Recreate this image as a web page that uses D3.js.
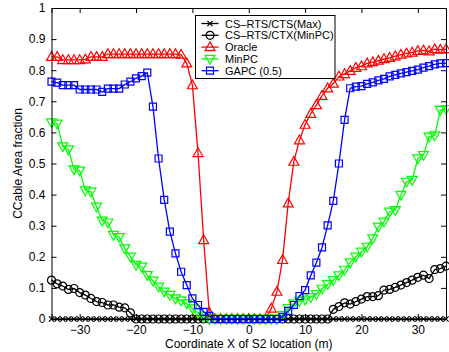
<!DOCTYPE html>
<html>
<head>
<meta charset="utf-8">
<script src="https://cdn.jsdelivr.net/npm/d3@7"></script>
<style>
  body { margin: 0; background: #fff; }
  text { font-family: "Liberation Sans", Arial, sans-serif; }
</style>
</head>
<body>
<svg width="449" height="352"></svg>
<script>
// sample locations (m)
var xs = d3.range(-35, 36);

var xTicks = [-30, -20, -10, 0, 10, 20, 30];
var yTicks = [0, 0.1, 0.2, 0.3, 0.4, 0.5, 0.6, 0.7, 0.8, 0.9, 1];

var seriesNames = ["CS–RTS/CTS(Max)", "CS–RTS/CTX(MinPC)", "Oracle", "MinPC", "GAPC (0.5)"];

var maxVals = [0,0,0,0,0,0,0,0,0,0,0,0,0,0,0,0,0,0,0,0,0,0,0,0,0,0,0,0,0,0,0,0,0,0,0,0,
  0,0,0,0,0,0,0,0,0,0,0,0,0,0,0,0,0,0,0,0,0,0,0,0,0,0,0,0,0,0,0,0,0,0,0];

var ctxVals = [0.125,0.113,0.106,0.095,0.098,0.085,0.077,0.066,0.056,0.053,0.045,0.045,0.038,0.036,0.02,
  0,0,0,0,0,0,0,0,0,0,0,0,0,0,0,0,0,0,0,0,0,0,0,0,0,0,0,0,0,0,0,0,0,0,0,
  0.031,0.04,0.052,0.048,0.056,0.064,0.072,0.072,0.075,0.093,0.095,0.102,0.109,0.117,0.125,0.134,0.141,0.13,0.159,0.162,0.17];

var oracleVals = [0.843,0.843,0.833,0.833,0.833,0.833,0.835,0.843,0.843,0.843,
  0.852,0.852,0.852,0.852,0.852,0.852,0.852,0.852,0.852,0.852,0.852,0.852,0.852,
  0.85,0.822,0.752,0.534,0.254,0.02,
  0,0,0,0,0,0,0,0,0,0,
  0.034,0.088,0.19,0.372,0.506,0.575,0.625,0.66,0.688,0.718,0.742,0.757,0.78,0.788,0.798,0.808,
  0.813,0.822,0.826,0.831,0.836,0.84,0.845,0.85,0.854,0.857,0.862,0.864,0.861,0.868,0.866,0.868];

var minpcVals = [0.632,0.628,0.555,0.545,0.481,0.477,0.413,0.409,0.361,0.316,0.31,0.27,0.263,0.227,0.2,
  0.174,0.168,0.141,0.123,0.104,0.088,0.077,0.066,0.059,0.05,0.034,0.02,0.008,0,
  0,0,0,0,0,0,0,0,0,0,0,
  0,0.012,0.035,0.05,0.058,0.062,0.07,0.08,0.097,0.112,0.125,0.14,0.158,0.182,0.2,0.216,
  0.232,0.259,0.297,0.313,0.345,0.35,0.399,0.441,0.447,0.516,0.527,0.586,0.59,0.672,0.675];

var gapcVals = [0.763,0.76,0.752,0.752,0.752,0.738,0.738,0.738,0.738,0.73,0.741,0.741,0.741,0.754,0.763,0.774,0.781,0.792,
  0.683,0.516,0.383,0.281,0.211,0.152,0.109,0.066,0.045,0.023,0.01,
  0,0,0,0,0,0,0,0,0,0,0,0,
  0.007,0.026,0.045,0.074,0.093,0.14,0.181,0.23,0.301,0.38,0.5,0.64,
  0.742,0.747,0.749,0.756,0.761,0.767,0.772,0.78,0.785,0.79,0.794,0.798,0.802,0.808,0.813,0.819,0.822,0.823];

var svg = d3.select("svg");
var margin = {left: 51.5, right: 3, top: 8, bottom: 33};
var width = 449 - margin.left - margin.right,
    height = 352 - margin.top - margin.bottom;

var x = d3.scaleLinear().domain([-35, 35]).range([margin.left, margin.left + width]);
var y = d3.scaleLinear().domain([0, 1]).range([margin.top + height, margin.top]);

// marker shapes, centred on the point
function markerPath(kind) {
  if (kind == "x") return "M-2.6,-2.6L2.6,2.6M-2.6,2.6L2.6,-2.6";
  if (kind == "o") return "M4,0A4,4 0 1,1 -4,0A4,4 0 1,1 4,0Z";
  if (kind == "up") return "M0,-5.2L5,3.6L-5,3.6Z";
  if (kind == "down") return "M0,5.2L5,-3.6L-5,-3.6Z";
  if (kind == "sq") return "M-3.5,-3.5H3.5V3.5H-3.5Z";
}

var series = [
  {name: seriesNames[0], vals: maxVals, color: "#000", marker: "x"},
  {name: seriesNames[1], vals: ctxVals, color: "#000", marker: "o"},
  {name: seriesNames[2], vals: oracleVals, color: "#ff0000", marker: "up"},
  {name: seriesNames[3], vals: minpcVals, color: "#00ff00", marker: "down"},
  {name: seriesNames[4], vals: gapcVals, color: "#0000ff", marker: "sq"}
];

var line = d3.line()
  .x(function(d) { return x(d[0]); })
  .y(function(d) { return y(d[1]); });

var plot = svg.append("g");
series.forEach(function(s) {
  var pts = xs.map(function(v, i) { return [v, s.vals[i]]; });
  var g = plot.append("g");
  g.append("path")
    .attr("d", line(pts))
    .attr("fill", "none")
    .attr("stroke", s.color)
    .attr("stroke-width", 1.3);
  g.selectAll("path.m")
    .data(pts)
    .enter()
    .append("path")
      .attr("class", "m")
      .attr("d", markerPath(s.marker))
      .attr("transform", function(d) { return "translate(" + x(d[0]) + "," + y(d[1]) + ")"; })
      .attr("fill", "none")
      .attr("stroke", s.color)
      .attr("stroke-width", 1.2);
});

// axes with inward ticks on all four sides
var tl = 5;
svg.append("g")
  .attr("transform", "translate(0," + (margin.top + height) + ")")
  .call(d3.axisBottom(x).tickValues(xTicks).tickSize(-tl).tickPadding(6).tickFormat(d3.format("d")));
svg.append("g")
  .attr("transform", "translate(0," + margin.top + ")")
  .call(d3.axisTop(x).tickValues(xTicks).tickSize(-tl).tickFormat(""));
svg.append("g")
  .attr("transform", "translate(" + margin.left + ",0)")
  .call(d3.axisLeft(y).tickValues(yTicks).tickSize(-tl).tickPadding(6).tickFormat(function(d) { return d === 0 ? "0" : d === 1 ? "1" : d3.format(".1f")(d); }));
svg.append("g")
  .attr("transform", "translate(" + (margin.left + width) + ",0)")
  .call(d3.axisRight(y).tickValues(yTicks).tickSize(-tl).tickFormat(""));

svg.selectAll(".domain").attr("stroke", "#000");
svg.selectAll(".tick line").attr("stroke", "#000");
svg.selectAll(".tick text")
  .attr("fill", "#000")
  .style("font-size", "12px")
  .style("font-family", "Liberation Sans, Arial, sans-serif");

// axis labels
svg.append("text")
  .attr("x", margin.left + width / 2)
  .attr("y", 348)
  .attr("text-anchor", "middle")
  .style("font-size", "12px")
  .text("Coordinate X of S2 location (m)");
svg.append("text")
  .attr("transform", "translate(22," + (margin.top + height / 2) + ") rotate(-90)")
  .attr("text-anchor", "middle")
  .style("font-size", "12px")
  .text("CCable Area fraction");

// legend
var lg = svg.append("g").attr("transform", "translate(195.5,15.5)");
lg.append("rect")
  .attr("width", 139.5)
  .attr("height", 63)
  .attr("fill", "#fff")
  .attr("stroke", "#000");
series.forEach(function(s, i) {
  var cy = 8 + i * 11.8;
  lg.append("line")
    .attr("x1", 6).attr("x2", 23).attr("y1", cy).attr("y2", cy)
    .attr("stroke", s.color).attr("stroke-width", 1.3);
  lg.append("path")
    .attr("d", markerPath(s.marker))
    .attr("transform", "translate(14.5," + cy + ")")
    .attr("fill", "none")
    .attr("stroke", s.color)
    .attr("stroke-width", 1.2);
  lg.append("text")
    .attr("x", 29.5)
    .attr("y", cy + 4)
    .style("font-size", "11px")
    .text(s.name);
});
</script>
</body>
</html>
